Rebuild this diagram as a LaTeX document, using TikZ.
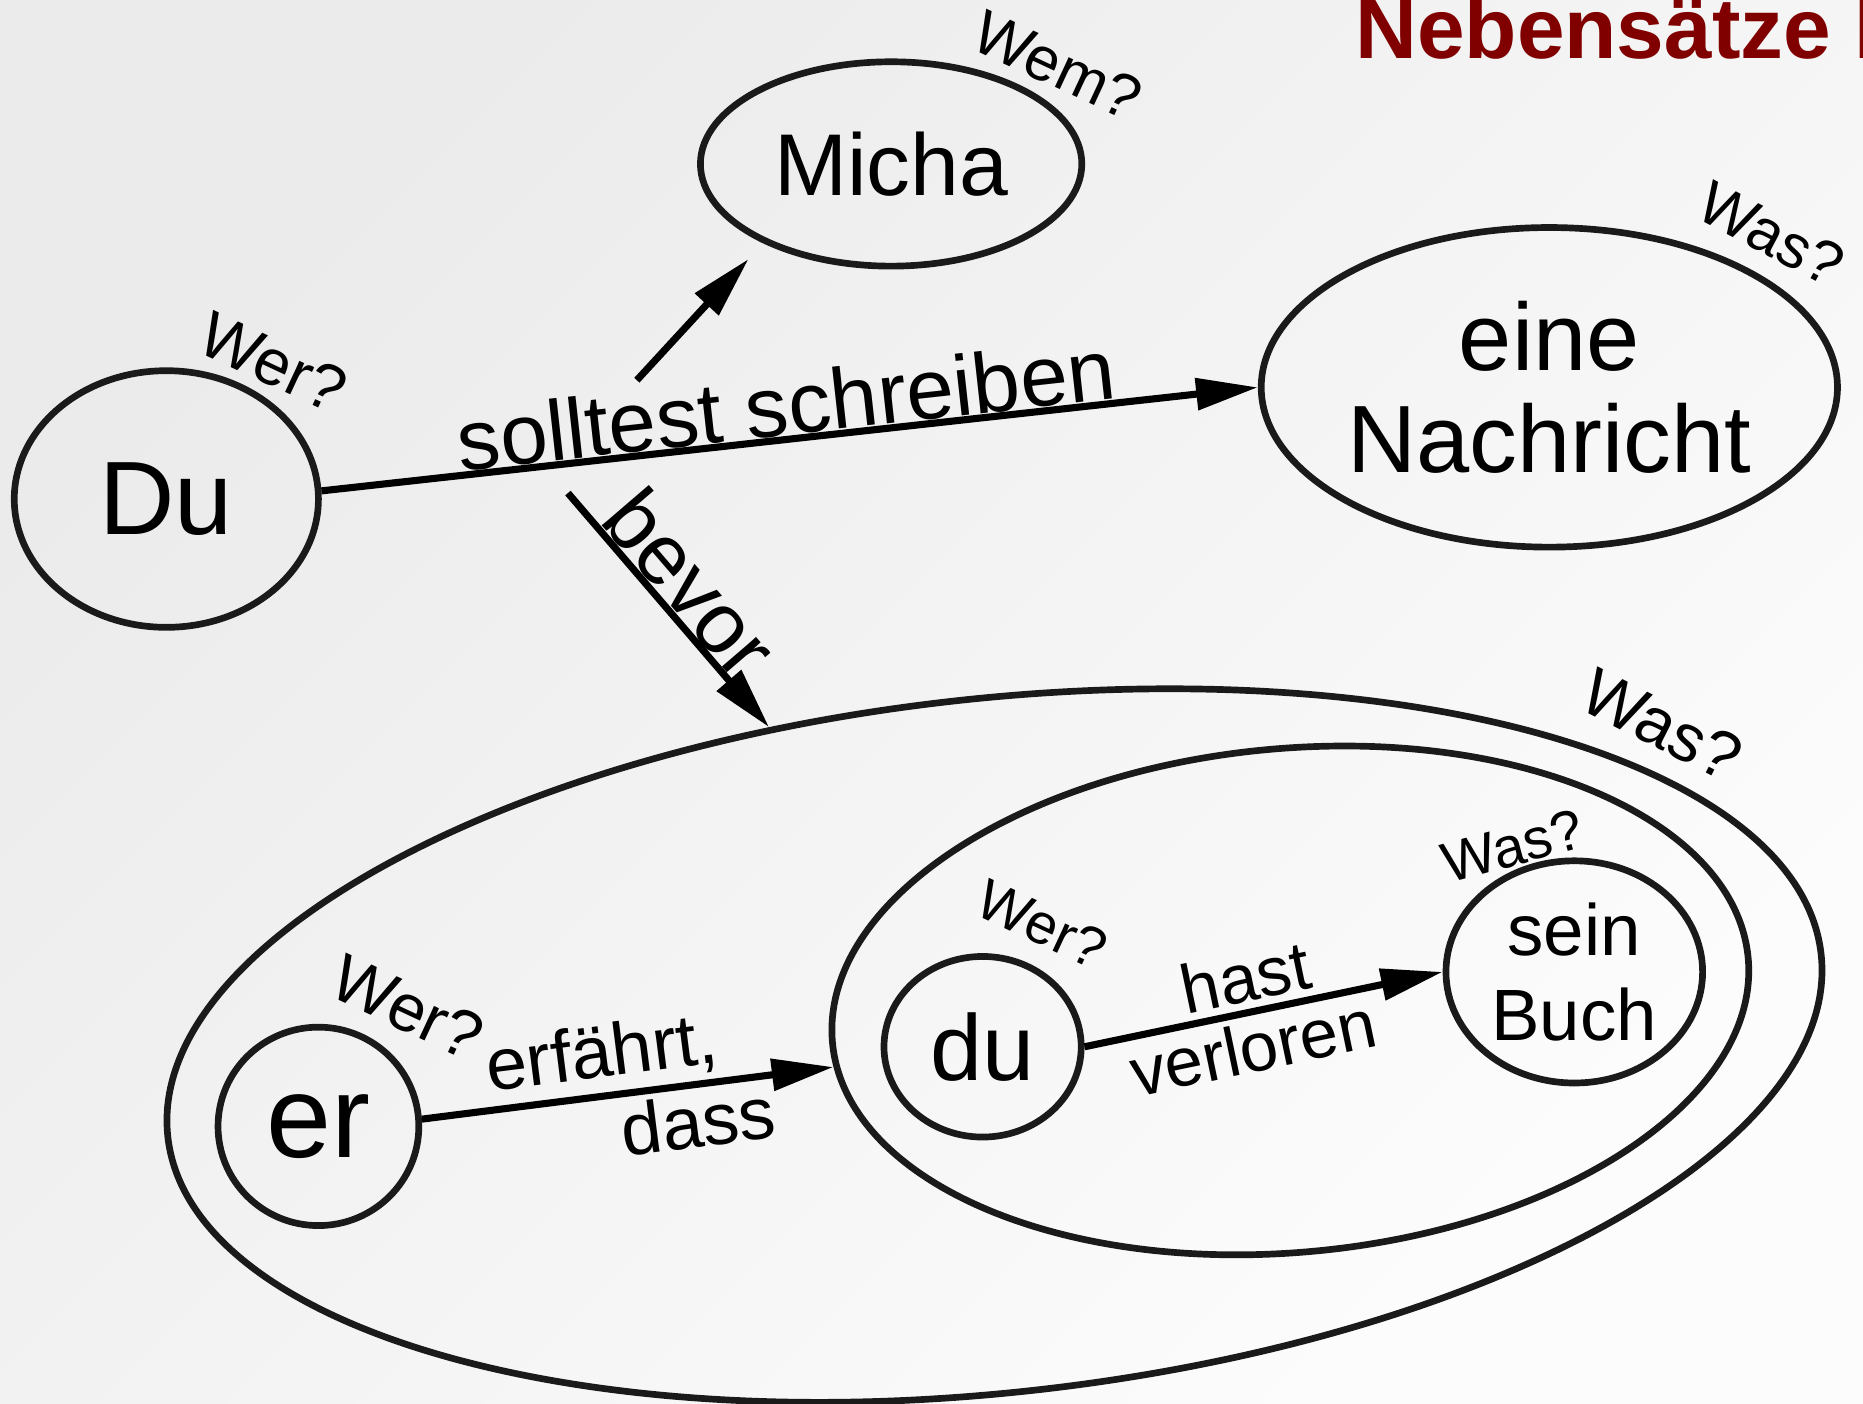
\documentclass[tikz,border=0pt]{standalone}
\usepackage{fontspec}
\setmainfont{Liberation Sans}
\usetikzlibrary{shapes.geometric,arrows.meta}
\definecolor{titlered}{RGB}{128,0,0}
\definecolor{rim}{RGB}{26,26,26}
\begin{document}
\begin{tikzpicture}[
        bubble/.style={ellipse, draw=rim, line width=1.6pt, inner sep=0pt, align=center},
        conn/.style={-{Triangle[length=5.2mm,width=2.6mm]}, line width=1.7pt},
        ask/.style={inner sep=0pt},
        edgelbl/.style={sloped, inner sep=1.5pt}
    ]
        \useasboundingbox (0,0) rectangle (15.68,-11.81);
        \shade[top color=black!8, bottom color=black!1, shading angle=45] (0,0) rectangle (15.68,-11.81);

        \node[anchor=base west, inner sep=0pt, text=titlered, font=\fontsize{20.5}{23}\selectfont\bfseries] (title) at (11.40,-0.49) {Nebensätze II};

        \node[bubble, minimum width=2.56cm, minimum height=2.16cm, font=\fontsize{25}{28}\selectfont] (Du) at (1.40,-4.20) {Du};
        \node[bubble, minimum width=3.21cm, minimum height=1.72cm, font=\fontsize{21}{24}\selectfont] (Micha) at (7.50,-1.38) {Micha};
        \node[bubble, minimum width=4.85cm, minimum height=2.69cm, font=\fontsize{22.9}{24.5}\selectfont] (Nachricht) at (13.04,-3.26) {eine\\Nachricht};

        \node[bubble, minimum width=14.0cm, minimum height=5.84cm, rotate=6.3] (outer) at (8.37,-8.80) {};
        \node[bubble, minimum width=7.74cm, minimum height=4.24cm, rotate=5.3] (inner) at (10.86,-8.42) {};

        \node[bubble, minimum width=1.69cm, minimum height=1.67cm, font=\fontsize{28}{30}\selectfont] (er) at (2.68,-9.48) {er};
        \node[bubble, minimum width=1.66cm, minimum height=1.52cm, font=\fontsize{22.4}{25}\selectfont] (du) at (8.27,-8.81) {du};
        \node[bubble, minimum width=2.16cm, minimum height=1.87cm, font=\fontsize{17.4}{20.5}\selectfont] (Buch) at (13.25,-8.18) {sein\\Buch};

        \node[ask, rotate=-25, font=\fontsize{15.5}{17}\selectfont] (qDu) at (2.30,-3.05) {Wer?};
        \node[ask, rotate=-25, font=\fontsize{14.8}{17}\selectfont] (qMicha) at (8.90,-0.55) {Wem?};
        \node[ask, rotate=-28, font=\fontsize{14.6}{17}\selectfont] (qNachricht) at (14.91,-1.97) {Was?};
        \node[ask, rotate=-27, font=\fontsize{16}{18}\selectfont] (qouter) at (13.99,-6.10) {Was?};
        \node[ask, rotate=15, font=\fontsize{13.6}{15}\selectfont] (qBuch) at (12.73,-7.12) {Was?};
        \node[ask, rotate=-25, font=\fontsize{13.6}{15}\selectfont] (qdu) at (8.77,-7.78) {Wer?};
        \node[ask, rotate=-25, font=\fontsize{16}{18}\selectfont] (qer) at (3.43,-8.48) {Wer?};

        \coordinate (mfrom) at (5.36,-3.20);
        \coordinate (mto) at (6.30,-2.18);
        \coordinate (bfrom) at (4.78,-4.15);

        \draw[conn] (mfrom) -- (mto);
        \draw[conn] (Du.3) -- (Nachricht.west)
            node[edgelbl, above, pos=0.5, inner sep=0pt, font=\fontsize{20.5}{23}\selectfont] {solltest schreiben};
        \draw[conn] (bfrom) -- (outer.119)
            node[edgelbl, above, pos=0.48, inner sep=0pt, font=\fontsize{20.5}{23}\selectfont] {bevor};
        \draw[conn] (er.4) -- (inner.183)
            node[edgelbl, above, pos=0.45, font=\fontsize{17.6}{20}\selectfont] {erfährt,}
            node[edgelbl, below, pos=0.66, font=\fontsize{17.5}{20}\selectfont] {dass};
        \draw[conn] (du.east) -- (Buch.west)
            node[edgelbl, above, pos=0.47, font=\fontsize{16.5}{19}\selectfont] {hast}
            node[edgelbl, below, pos=0.45, font=\fontsize{16.5}{19}\selectfont] {verloren};
    \end{tikzpicture}
\end{document}
